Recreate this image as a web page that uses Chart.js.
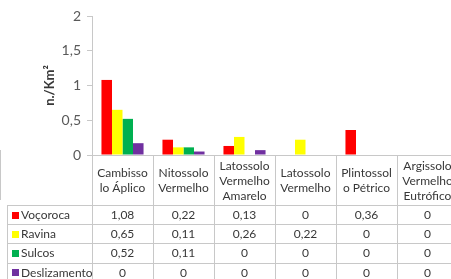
<!DOCTYPE html>
<html><head><meta charset="utf-8">
<script src="https://cdn.jsdelivr.net/npm/chart.js@4"></script>
<style>html,body{margin:0;padding:0;overflow:hidden;background:#fff}canvas{display:block}</style>
</head><body>
<canvas id="c" width="470" height="279"></canvas>
<script>
const categories = [
  ["Cambisso","lo Áplico"],
  ["Nitossolo","Vermelho"],
  ["Latossolo","Vermelho","Amarelo"],
  ["Latossolo","Vermelho"],
  ["Plintossol","o Pétrico"],
  ["Argissolo","Vermelho","Eutrófico"]
];
const seriesNames = ["Voçoroca","Ravina","Sulcos","Deslizamento"];
const seriesColors = ["#FF0000","#FFFF00","#00B050","#7030A0"];
// bar heights as drawn in the chart
const vocoroca = [1.08, 0.22, 0.13, 0, 0.36, 0];
const ravina = [0.65, 0.11, 0.26, 0.22, 0, 0];
const sulcos = [0.52, 0.11, 0, 0, 0, 0];
const deslizamento = [0.17, 0.05, 0.07, 0, 0, 0];
// values printed in the data table
const tableVocoroca = ["1,08","0,22","0,13","0","0,36","0"];
const tableRavina = ["0,65","0,11","0,26","0,22","0","0"];
const tableSulcos = ["0,52","0,11","0","0","0","0"];
const tableDeslizamento = ["0","0","0","0","0","0"];
const yTicks = [0, 0.5, 1, 1.5, 2];

const seriesValues = [vocoroca, ravina, sulcos, deslizamento];
const tableRows = [tableVocoroca, tableRavina, tableSulcos, tableDeslizamento];

const FONT = "Lato, 'Open Sans', sans-serif";
const LINE = "#c8c8c8";
const TXT = "#383838";

const tablePlugin = {
  id: 'dataTable',
  afterDraw(chart) {
    const ctx = chart.ctx;
    const x = chart.scales.x;
    const area = chart.chartArea;
    const n = categories.length;
    const colW = (area.right - area.left) / n;
    const axisY = area.bottom;
    const headerBottom = 205;
    const rowH = 19.2;
    const bottom = headerBottom + rowH * tableRows.length;
    const legendLeft = 7.5;
    ctx.save();
    ctx.strokeStyle = LINE;
    ctx.lineWidth = 1;
    for (let i = 0; i <= n; i++) {
      const px = Math.round(area.left + i * colW) + 0.5;
      ctx.beginPath(); ctx.moveTo(px, axisY); ctx.lineTo(px, bottom); ctx.stroke();
    }
    ctx.beginPath(); ctx.moveTo(legendLeft, headerBottom); ctx.lineTo(legendLeft, bottom); ctx.stroke();
    ctx.beginPath(); ctx.moveTo(0.5, 150); ctx.lineTo(0.5, 200); ctx.stroke();
    for (let r = 0; r <= tableRows.length; r++) {
      const py = Math.round(headerBottom + r * rowH) + 0.5;
      ctx.beginPath(); ctx.moveTo(legendLeft, py); ctx.lineTo(chart.width, py); ctx.stroke();
    }
    ctx.fillStyle = TXT;
    ctx.font = "12px " + FONT;
    ctx.textAlign = "center";
    ctx.textBaseline = "middle";
    const lh = 15;
    categories.forEach((lines, i) => {
      const cx = x.getPixelForValue(i);
      const midY = (axisY + headerBottom) / 2 + 1;
      const startY = midY - (lines.length - 1) * lh / 2;
      lines.forEach((t, k) => ctx.fillText(t, cx, startY + k * lh));
    });
    tableRows.forEach((row, r) => {
      const cy = headerBottom + r * rowH + rowH / 2 + 0.5;
      row.forEach((t, i) => {
        ctx.textAlign = "center";
        ctx.fillText(t, x.getPixelForValue(i), cy);
      });
      ctx.fillStyle = seriesColors[r];
      ctx.fillRect(12, Math.round(cy - 3.5), 7, 7);
      ctx.fillStyle = TXT;
      ctx.textAlign = "left";
      ctx.fillText(seriesNames[r], 21, cy);
    });
    ctx.restore();
  }
};

new Chart(document.getElementById('c'), {
  type: 'bar',
  data: {
    labels: categories,
    datasets: seriesNames.map((name, i) => ({
      label: name,
      data: seriesValues[i],
      backgroundColor: seriesColors[i],
      borderWidth: 0,
      categoryPercentage: 0.69,
      barPercentage: 1.0
    }))
  },
  options: {
    responsive: false,
    animation: false,
    layout: { padding: { left: 0, top: 16, right: 12, bottom: 0 } },
    plugins: { legend: { display: false }, tooltip: { enabled: false } },
    scales: {
      x: {
        ticks: { display: false },
        grid: { display: false },
        border: { display: true, color: LINE },
        afterFit(s) { s.height = 124; }
      },
      y: {
        min: 0, max: 2,
        afterBuildTicks(s) { s.ticks = yTicks.map(v => ({ value: v })); },
        ticks: {
          color: "#595959",
          font: { family: FONT, size: 14 },
          padding: 6,
          callback: v => String(v).replace('.', ',')
        },
        grid: { drawOnChartArea: false, drawTicks: true, tickLength: 5, color: LINE },
        border: { display: true, color: LINE },
        title: {
          display: true,
          text: "n./Km²",
          color: TXT,
          font: { family: FONT, size: 13, weight: 'bold' },
          padding: { top: 42, bottom: 0 }
        },
        afterFit(s) { s.width = 92; }
      }
    }
  },
  plugins: [tablePlugin]
});
</script>
</body></html>
